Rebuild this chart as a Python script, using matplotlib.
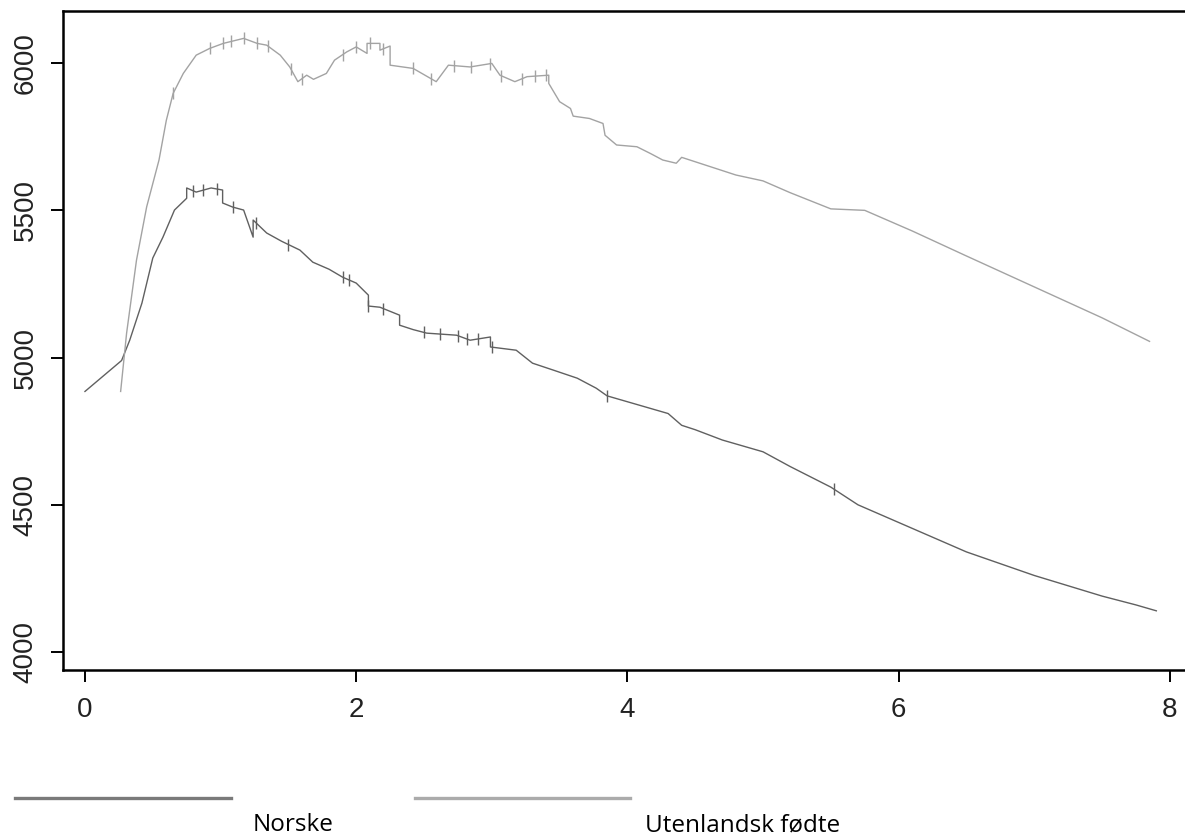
import numpy as np
import matplotlib
matplotlib.use("Agg")
import matplotlib.pyplot as plt
from matplotlib.lines import Line2D

# Norske (dark grey curve)
norske_t = [0, 0.27, 0.33, 0.42, 0.50, 0.575, 0.66, 0.75, 0.75, 0.82, 0.93, 1.015, 1.015,
            1.09, 1.17, 1.24, 1.24, 1.34, 1.45, 1.585, 1.68, 1.80, 1.90, 2.0, 2.09, 2.09,
            2.175, 2.32, 2.32, 2.42, 2.52, 2.74, 2.84, 2.99, 2.99, 3.18, 3.30, 3.45, 3.63,
            3.77, 3.85, 4.0, 4.15, 4.3, 4.4, 4.5, 4.7, 5.0, 5.2, 5.5, 5.7, 6.0, 6.5, 7.0,
            7.25, 7.5, 7.75, 7.9]
norske_v = [4885, 4990, 5059, 5185, 5338, 5409, 5501, 5541, 5576, 5562, 5576, 5569, 5525,
            5511, 5501, 5409, 5467, 5423, 5395, 5365, 5324, 5300, 5273, 5253, 5212, 5175,
            5171, 5144, 5110, 5095, 5083, 5076, 5059, 5070, 5036, 5025, 4981, 4958, 4930,
            4896, 4870, 4850, 4830, 4810, 4770, 4755, 4720, 4680, 4630, 4560, 4500, 4440,
            4340, 4260, 4225, 4190, 4160, 4140]

# Utenlandsk fødte (light grey curve)
uten_t = [0.263, 0.307, 0.38, 0.455, 0.546, 0.60, 0.65, 0.725, 0.82, 0.92, 1.02, 1.17,
          1.27, 1.34, 1.44, 1.51, 1.57, 1.635, 1.685, 1.78, 1.84, 1.93, 2.0, 2.08, 2.08,
          2.175, 2.175, 2.25, 2.25, 2.42, 2.59, 2.68, 2.84, 3.0, 3.06, 3.17, 3.26, 3.42,
          3.42, 3.50, 3.58, 3.60, 3.72, 3.82, 3.835, 3.92, 4.07, 4.17, 4.26, 4.36, 4.40,
          4.60, 4.80, 5.0, 5.2, 5.5, 5.75, 6.1, 6.5, 7.0, 7.5, 7.85]
uten_v = [4885, 5083, 5331, 5512, 5671, 5806, 5897, 5965, 6027, 6050, 6067, 6084,
          6067, 6061, 6027, 5987, 5937, 5959, 5945, 5965, 6010, 6038, 6055, 6033, 6067,
          6067, 6044, 6058, 5993, 5982, 5937, 5993, 5987, 5999, 5959, 5937, 5954, 5959,
          5931, 5869, 5846, 5820, 5812, 5795, 5755, 5722, 5716, 5693, 5671, 5660, 5680,
          5650, 5620, 5600, 5560, 5505, 5500, 5430, 5345, 5240, 5135, 5055]

# censoring marks
norske_cens = [0.8, 0.87, 0.97, 1.09, 1.26, 1.5, 1.9, 1.95, 2.09, 2.2, 2.5, 2.62, 2.75,
               2.82, 2.9, 3.0, 3.85, 5.52]
uten_cens = [0.65, 0.92, 1.02, 1.08, 1.17, 1.27, 1.35, 1.52, 1.6, 1.9, 2.0, 2.1, 2.2,
             2.42, 2.55, 2.72, 2.85, 2.99, 3.07, 3.22, 3.32, 3.4]

x_ticks = [0, 2, 4, 6, 8]
y_ticks = [4000, 4500, 5000, 5500, 6000]
labels = ["Norske", "Utenlandsk fødte"]
col_n, col_u = "#606060", "#a3a3a3"

fig = plt.figure(figsize=(11.85, 8.35), dpi=100)
ax = fig.add_axes([63 / 1185, 165 / 835, 1134 / 1185, 659 / 835])

ax.plot(norske_t, norske_v, color=col_n, lw=1.0)
ax.plot(uten_t, uten_v, color=col_u, lw=1.0)
ax.plot(norske_cens, np.interp(norske_cens, norske_t, norske_v), ls="none",
        marker="|", ms=9, mew=1.0, color=col_n)
ax.plot(uten_cens, np.interp(uten_cens, uten_t, uten_v), ls="none",
        marker="|", ms=9, mew=1.0, color=col_u)

ax.set_xlim(-0.162, 8.2)
ax.set_ylim(3939, 6177)
ax.set_xticks(x_ticks)
ax.set_yticks(y_ticks)
ax.spines["right"].set_visible(False)
for s in ["left", "bottom", "top"]:
    ax.spines[s].set_linewidth(1.8)
ax.tick_params(length=8.5, width=1.4, labelsize=20, labelcolor="#222222")
ax.tick_params(axis="y", pad=9)
ax.tick_params(axis="x", pad=11)
for lab in ax.get_yticklabels():
    lab.set_rotation(90)
    lab.set_va("center")
for lab in ax.get_xticklabels() + ax.get_yticklabels():
    lab.set_fontfamily("Liberation Sans")

# legend below the plot
fig.add_artist(Line2D([15 / 1185, 231 / 1185], [37 / 835, 37 / 835], color="#7a7a7a", lw=2.4))
fig.add_artist(Line2D([415 / 1185, 630 / 1185], [37 / 835, 37 / 835], color="#ababab", lw=2.4))
fig.text(253 / 1185, 4 / 835, labels[0], fontsize=17.5, family="Open Sans", va="baseline")
fig.text(645 / 1185, 4 / 835, labels[1], fontsize=17.5, family="Open Sans", va="baseline")

fig.savefig("out.png", dpi=100)
